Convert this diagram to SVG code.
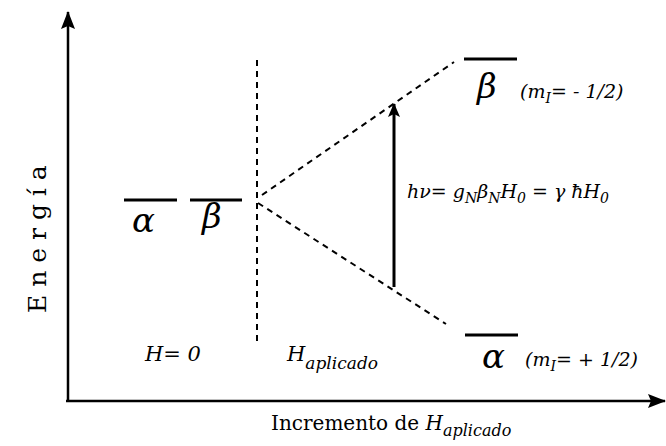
<svg xmlns="http://www.w3.org/2000/svg" width="666" height="446" viewBox="0 0 666 446">
<style>
.ax{stroke:#000;stroke-width:2.5;fill:none}
.lvl{stroke:#000;stroke-width:3;fill:none}
.dash{stroke:#000;stroke-width:2;stroke-dasharray:6,5;fill:none}
text{font-family:'DejaVu Serif','Liberation Serif',serif;fill:#000}
.i{font-style:italic}
.g{font-style:italic;font-size:34px}
</style>
<defs>
<marker id="axh" markerWidth="18" markerHeight="14" refX="17" refY="7" orient="auto" markerUnits="userSpaceOnUse" viewBox="0 0 18 14">
<path d="M0,0 L18,7 L0,14 L3,7 Z" fill="#000"/>
</marker>
<marker id="arh" markerWidth="14" markerHeight="12" refX="13" refY="6" orient="auto" markerUnits="userSpaceOnUse" viewBox="0 0 14 12">
<path d="M0,0 L14,6 L0,12 L3,6 Z" fill="#000"/>
</marker>
</defs>
<g id="connectors">
<line class="ax" x1="68" y1="402" x2="68" y2="12" marker-end="url(#axh)"/>
<line class="ax" x1="66" y1="401" x2="665" y2="401" marker-end="url(#axh)"/>
<line class="dash" x1="257" y1="60" x2="257" y2="345"/>
<line class="dash" x1="262" y1="195" x2="454" y2="62"/>
<line class="dash" x1="258" y1="203" x2="446" y2="324"/>
<line x1="394" y1="287" x2="394" y2="104" stroke="#000" stroke-width="3" marker-end="url(#arh)"/>
</g>
<g id="level-alpha0">
<line class="lvl" x1="124" y1="200" x2="177" y2="200"/>
<text class="g" x="132" y="232">α</text>
</g>
<g id="level-beta0">
<line class="lvl" x1="190" y1="200" x2="242" y2="200"/>
<text class="g" x="202" y="228">β</text>
</g>
<g id="level-beta">
<line class="lvl" x1="464" y1="59" x2="517" y2="59"/>
<text class="g" x="477" y="98">β</text>
<text class="i" font-size="19" x="520" y="98">(m<tspan font-size="14" dy="5">I</tspan><tspan dy="-5">= - 1/2)</tspan></text>
</g>
<g id="level-alpha">
<line class="lvl" x1="465" y1="335" x2="518" y2="335"/>
<text class="g" x="482" y="368">α</text>
<text class="i" font-size="19" x="525" y="366">(m<tspan font-size="14" dy="5">I</tspan><tspan dy="-5">= + 1/2)</tspan></text>
</g>
<g id="formula">
<text class="i" font-size="19" x="407" y="198">hν= g<tspan font-size="14" dy="5">N</tspan><tspan dy="-5">β</tspan><tspan font-size="14" dy="5">N</tspan><tspan dy="-5">H</tspan><tspan font-size="14" dy="5">0</tspan><tspan dy="-5"> = γ ħH</tspan><tspan font-size="14" dy="5">0</tspan></text>
</g>
<g id="labels">
<text class="i" font-size="21" x="145" y="361">H= 0</text>
<text class="i" font-size="21" x="287" y="361">H<tspan font-size="17" dy="8">aplicado</tspan></text>
<text font-size="20" x="271" y="430">Incremento de <tspan class="i">H</tspan><tspan class="i" font-size="16" dy="6">aplicado</tspan></text>
<text font-size="25" transform="translate(46,313) rotate(-90)">E n e r g í a</text>
</g>
</svg>
